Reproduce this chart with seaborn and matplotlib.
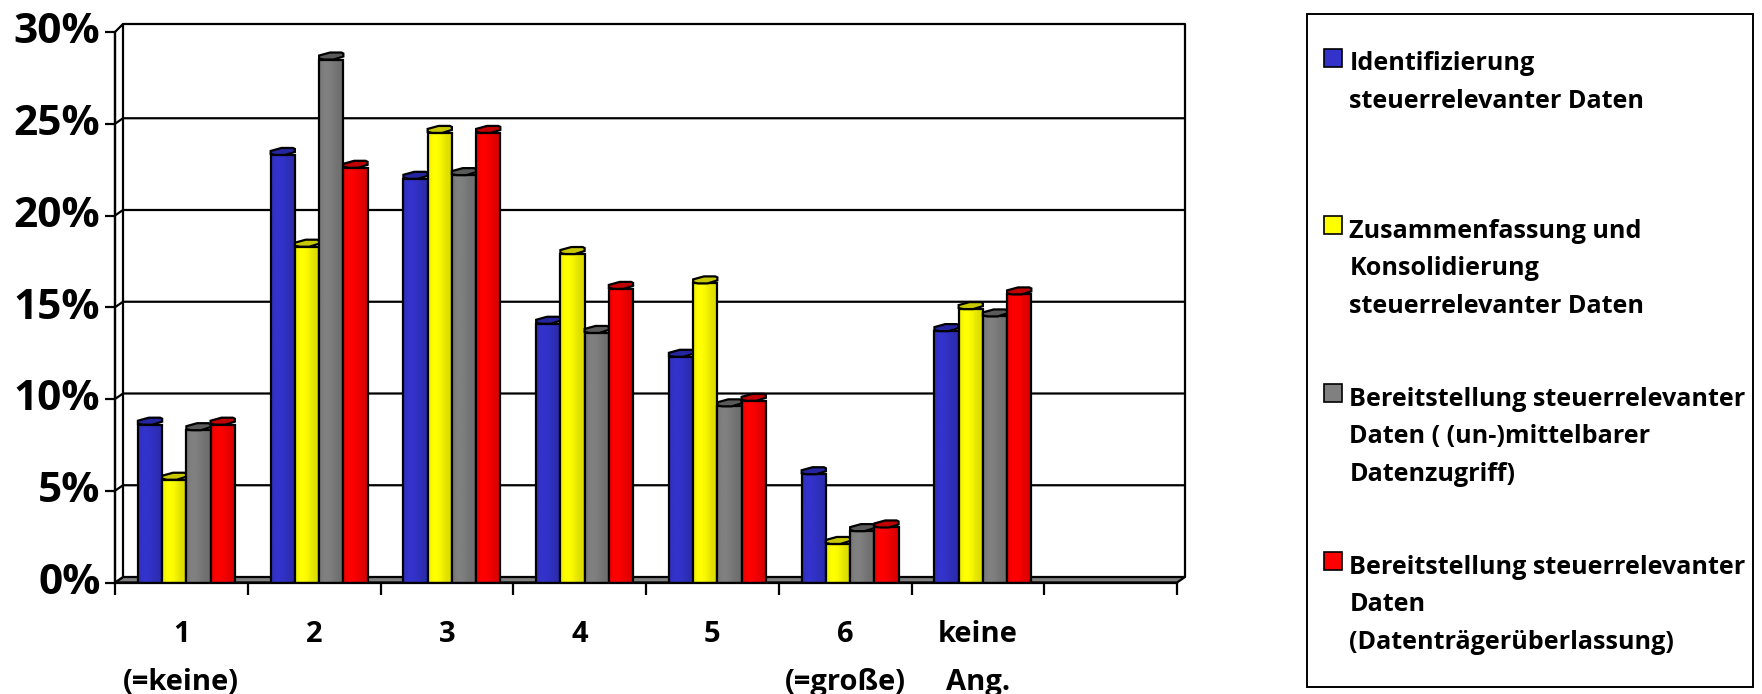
import numpy as np
import pandas as pd
import seaborn as sns
import matplotlib.pyplot as plt
from matplotlib.patches import Polygon, Rectangle, Patch
from matplotlib.legend_handler import HandlerPatch
from matplotlib.colors import to_rgb
from matplotlib.transforms import ScaledTranslation

categories = ['1\n(=keine)', '2', '3', '4', '5', '6\n(=große)', 'keine\nAng.', '']
series_names = ['Identifizierung\nsteuerrelevanter Daten\n ',
                'Zusammenfassung und\nKonsolidierung\nsteuerrelevanter Daten',
                'Bereitstellung steuerrelevanter\nDaten ( (un-)mittelbarer\nDatenzugriff)',
                'Bereitstellung steuerrelevanter\nDaten\n(Datenträgerüberlassung)']
blue = [8.6, 23.3, 22.0, 14.1, 12.3, 5.9, 13.7, 0]
yellow = [5.6, 18.3, 24.5, 17.9, 16.3, 2.1, 14.9, 0]
grey = [8.3, 28.5, 22.2, 13.6, 9.6, 2.8, 14.5, 0]
red = [8.6, 22.6, 24.5, 16.0, 9.9, 3.0, 15.7, 0]
y_ticks = [0, 5, 10, 15, 20, 25, 30]

colors = ['#3333CC', '#FFFF00', '#808080', '#FF0000']
cap_colors = ['#2525A0', '#C8C800', '#5A5A5A', '#C00000']

df = pd.DataFrame({'cat': categories * 4,
                   'series': np.repeat(series_names, 8),
                   'val': blue + yellow + grey + red})

sns.set_theme(style='white')
plt.rcParams['font.family'] = ['Open Sans', 'DejaVu Sans']
plt.rcParams['font.weight'] = 'bold'

W, H = 1762, 694
fig = plt.figure(figsize=(W / 100, H / 100), dpi=100)
ax = fig.add_axes([115 / W, (H - 582.5) / H, (1177 - 115) / W, 550.5 / H])

sns.barplot(data=df, x='cat', y='val', hue='series', order=categories, hue_order=series_names,
            palette=colors, width=0.73, legend=False, saturation=1, ax=ax)
bars = list(ax.patches)
ax.set_xlim(-0.5, 7.5)
ax.set_ylim(0, 30)

# size of one pixel in data units, the fake 3d is done in pixels
px = 8 / 1062
py = 30 / 550.5
dx, dy = 8 * px, 5.5 * py
top = 30 + 8 * py
lw = 1.6

# floor and walls
ax.add_patch(Polygon([(-0.5, 0), (-0.5 + dx, dy), (7.5 + dx, dy), (7.5, 0)], fc='#808080', ec='black',
                     lw=lw, clip_on=False, zorder=1))
ax.add_patch(Polygon([(-0.5, 0), (-0.5 + dx, dy), (-0.5 + dx, top), (-0.5, 30)], fc='white', ec='black',
                     lw=lw, clip_on=False, zorder=1))
ax.plot([-0.5 + dx, 7.5 + dx, 7.5 + dx], [top, top, dy], color='black', lw=lw, clip_on=False, zorder=1)
for v in y_ticks[1:-1]:
    ax.plot([-0.5, -0.5 + dx, 7.5 + dx], [v, v + dy, v + dy], color='black', lw=lw, clip_on=False, zorder=1)

# gradient, cap and outline for the bars
factors = np.array([0.95, 1, 1, 0.97, 0.92, 0.88, 0.86])[None, :, None]
n = len(categories)
for i, (color, cap) in enumerate(zip(colors, cap_colors)):
    z = 3 + i
    for p in bars[i * n:(i + 1) * n]:
        h = p.get_height()
        if h == 0:
            p.set_visible(False)
            continue
        p.set_x(p.get_x() + 5 * px)
        x0, w = p.get_x(), p.get_width()
        x1 = x0 + w
        ax.imshow(np.array(to_rgb(color))[None, None, :] * factors, extent=[x0, x1, 0, h], aspect='auto',
                  interpolation='bilinear', zorder=z)
        p.set_facecolor('none')
        p.set_edgecolor('black')
        p.set_linewidth(lw)
        p.set_zorder(z + 0.1)
        ax.add_patch(Polygon([(x0, h + 1 * py), (x0 + 0.2 * w, h), (x0 + 0.6 * w, h), (x1, h + 3 * py),
                              (x1, h + 6 * py), (x1 - 2 * px, h + 7 * py), (x0 + 0.45 * w, h + 7 * py),
                              (x0, h + 4 * py)],
                             fc=cap, ec='black', lw=lw, clip_on=False, zorder=z + 0.2))
ax.set_xlim(-0.5, 7.5)
ax.set_ylim(0, 30)

# axes
for side in ['top', 'right']:
    ax.spines[side].set_visible(False)
for side in ['left', 'bottom']:
    ax.spines[side].set_color('black')
    ax.spines[side].set_linewidth(lw)
    ax.spines[side].set_zorder(8)
ax.set_xlabel('')
ax.set_ylabel('')
ax.set_yticks(y_ticks)
ax.set_yticklabels([f'{v}%' for v in y_ticks], fontsize=30.5)
ax.tick_params(axis='y', length=7.5, width=lw, color='black', left=True, pad=3, labelcolor='black')
up = ScaledTranslation(0, 3 / 72, fig.dpi_scale_trans)
for lab in ax.get_yticklabels():
    lab.set_transform(lab.get_transform() + up)
ax.set_xticks(np.arange(-0.5, 8, 1))
ax.set_xticklabels([])
ax.tick_params(axis='x', which='major', length=8.5, width=lw, color='black', bottom=True)
ax.set_xticks(range(n), categories, minor=True, fontsize=21, linespacing=1.87, va='top')
ax.tick_params(axis='x', which='minor', length=0, pad=27, labelcolor='black')


class TopHandler(HandlerPatch):
    # legend keys sit on the first text line, not the middle of the block
    def create_artists(self, legend, orig, xd, yd, width, height, fontsize, trans):
        r = Rectangle((-xd, -yd + 44 * 0.72), 18 * 0.72, 18 * 0.72, fc=orig.get_facecolor(), ec='black', lw=1.2,
                      transform=trans)
        return [r]


# the box is not centred round the entries, so it is drawn by hand
fig.add_artist(Rectangle((1307 / W, (H - 687) / H), 446 / W, 673 / H, transform=fig.transFigure,
                         fc='white', ec='black', lw=1.4))
handles = [Patch(fc=c, label=s) for c, s in zip(colors, series_names)]
leg = fig.legend(handles=handles, loc='upper left', bbox_to_anchor=(1324 / W, (H - 51) / H), ncol=1,
                 fontsize=18.1, frameon=False, handler_map={Patch: TopHandler()},
                 handlelength=0.7, handletextpad=0.31, labelspacing=2.7, borderpad=0, borderaxespad=0,
                 labelcolor='black')
for t in leg.get_texts():
    t.set_linespacing(1.66)

fig.savefig('out.png', dpi=100)
